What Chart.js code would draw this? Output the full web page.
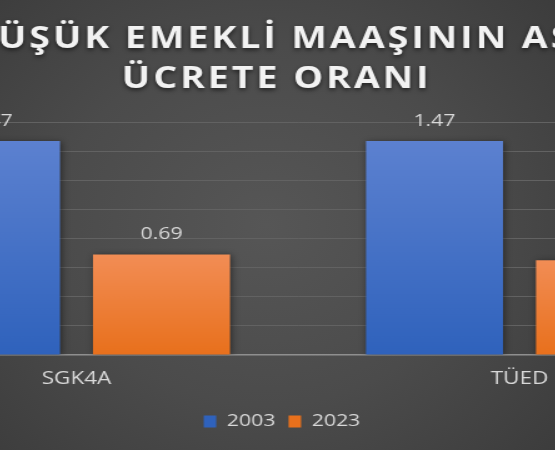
<!DOCTYPE html>
<html><head><meta charset="utf-8">
<script src="https://cdn.jsdelivr.net/npm/chart.js@4/dist/chart.umd.min.js"></script>
<style>
html,body{margin:0;padding:0;}
body{width:555px;height:450px;overflow:hidden;position:relative;
background: radial-gradient(ellipse 75% 80% at 48% 50%, #565656 0%, #4b4b4b 50%, #3a3a3a 100%);}
#wrap{position:absolute;left:-197px;top:0;width:770px;height:450px;transform:scaleX(1.25);transform-origin:0 0;}
</style></head><body>
<div id="wrap"><canvas id="c"></canvas></div>
<script>
const titleLines = ['EN DÜŞÜK EMEKLİ MAAŞININ ASGARİ', 'ÜCRETE ORANI'];
const categories = ['SGK4A', 'TÜED'];
const seriesNames = ['2003', '2023'];
const values2003 = [1.47, 1.47];
const values2023 = [0.69, 0.65];
const yMin = 0, yMax = 1.6, yStep = 0.2;

function barGradient(top, bottom) {
  return function(c) {
    const chart = c.chart;
    if (!chart.chartArea || c.type !== 'data') return bottom;
    const y = chart.scales.y;
    const yTop = y.getPixelForValue(c.raw);
    const yBot = y.getPixelForValue(0);
    const g = chart.ctx.createLinearGradient(0, yTop, 0, yBot);
    g.addColorStop(0, top); g.addColorStop(1, bottom);
    return g;
  };
}

const barShadow = {
  id: 'barShadow',
  beforeDatasetsDraw(chart) {
    const ctx = chart.ctx; ctx.save();
    ctx.shadowColor = 'rgba(0,0,0,0.45)'; ctx.shadowBlur = 6; ctx.shadowOffsetX = 1; ctx.shadowOffsetY = 1;
  },
  afterDatasetsDraw(chart) { chart.ctx.restore(); }
};

const valueLabels = {
  id: 'valueLabels',
  afterDatasetsDraw(chart) {
    const ctx = chart.ctx; ctx.save();
    ctx.font = '17px "Open Sans"'; ctx.fillStyle = '#d9d9d9';
    ctx.textAlign = 'center'; ctx.textBaseline = 'middle';
    chart.data.datasets.forEach((ds, i) => {
      chart.getDatasetMeta(i).data.forEach((bar, j) => {
        ctx.fillText(ds.data[j].toFixed(2), bar.x, bar.y - 20);
      });
    });
    ctx.restore();
  }
};

const customTitle = {
  id: 'customTitle',
  afterDraw(chart) {
    const ctx = chart.ctx; ctx.save();
    ctx.font = 'bold 30px "Open Sans"'; ctx.fillStyle = '#f2f2f2';
    ctx.letterSpacing = '2.4px';
    ctx.textBaseline = 'alphabetic';
    ctx.shadowColor = 'rgba(0,0,0,0.6)'; ctx.shadowBlur = 4; ctx.shadowOffsetY = 2;
    ctx.textAlign = 'left';
    const prefix = ctx.measureText(titleLines[0].slice(0, 4)).width;
    ctx.fillText(titleLines[0], 156 - prefix, 48);
    ctx.textAlign = 'center';
    ctx.fillText(titleLines[1], 379, 88);
    ctx.restore();
  }
};

new Chart(document.getElementById('c'), {
  type: 'bar',
  data: {
    labels: categories,
    datasets: [
      { label: seriesNames[0], data: values2003, backgroundColor: barGradient('#5c81d0', '#2f62bc'),
        categoryPercentage: 0.7675, barPercentage: 0.806 },
      { label: seriesNames[1], data: values2023, backgroundColor: barGradient('#f28d55', '#e8701c'),
        categoryPercentage: 0.7675, barPercentage: 0.806 }
    ]
  },
  options: {
    responsive: true, maintainAspectRatio: false, animation: false,
    layout: { padding: { top: 122, right: 19.6, bottom: 10, left: 16 } },
    scales: {
      x: {
        grid: { display: false, drawTicks: false },
        border: { display: true, color: '#8f8f8f', width: 1.5 },
        ticks: { color: '#d9d9d9', font: { family: 'Open Sans', size: 18 }, padding: 13 }
      },
      y: {
        min: yMin, max: yMax,
        ticks: { display: false, stepSize: yStep },
        grid: { color: '#626262', drawTicks: false, lineWidth: 1 },
        border: { display: false },
        afterFit(s) { s.width = 25.6; }
      }
    },
    plugins: {
      legend: { position: 'bottom', labels: { color: '#d9d9d9', font: { family: 'Open Sans', size: 17 }, boxWidth: 10, boxHeight: 12, padding: 10.5 } },
      title: { display: false },
      tooltip: { enabled: false }
    }
  },
  plugins: [barShadow, valueLabels, customTitle]
});
</script>
</body></html>
